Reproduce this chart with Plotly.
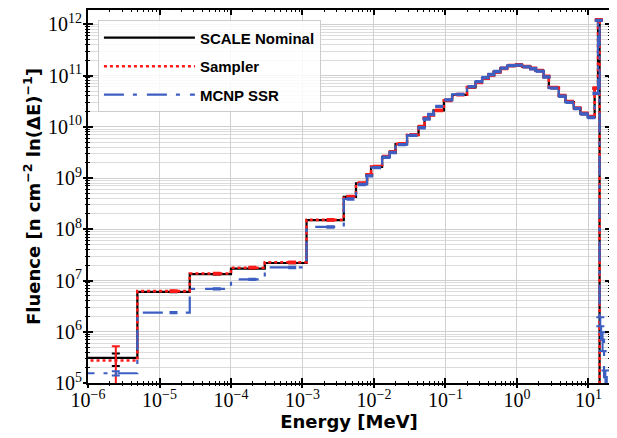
import plotly.graph_objects as go

# ---------------- data ----------------
# energy group boundaries [MeV]
edges = [1e-11, 4.9e-6, 2.65e-5, 1.0e-4, 2.97e-4, 1.14e-3, 3.78e-3, 5.6e-3, 8.0e-3, 9.1e-3,
         1.3e-2, 1.66e-2, 2.0e-2, 2.9e-2, 4.2e-2, 5.1e-2, 5.8e-2, 6.8e-2, 9.5e-2, 0.124,
         0.20, 0.263, 0.326, 0.403, 0.473, 0.587, 0.729, 0.953, 1.18, 1.55,
         1.82, 2.37, 2.79, 3.85, 4.77, 6.23, 7.72, 9.77, 12.2, 13.6,
         14.3, 15.0, 16.5, 18.0, 20.0]

scale_nominal = [3.08e5, 5.98e6, 1.33e7, 1.71e7, 2.2e7, 1.51e8, 4.3e8, 7.9e8, 1.14e9, 1.66e9,
                 2.6e9, 3.2e9, 4.6e9, 6.9e9, 1.0e10, 1.46e10, 1.7e10, 2.1e10, 3.3e10, 4.2e10,
                 5.9e10, 7.35e10, 8.8e10, 1.02e11, 1.17e11, 1.37e11, 1.55e11, 1.6e11, 1.49e11, 1.37e11,
                 1.24e11, 9.5e10, 5.8e10, 4.0e10, 3.05e10, 2.3e10, 1.8e10, 1.57e10, 5.6e10, 1.2e12,
                 1e2, 1e2, 1e2, 1e2]
sampler = [2.74e5, 6.2e6, 1.37e7, 1.78e7, 2.27e7, 1.53e8, 4.35e8, 8.0e8, 1.15e9, 1.68e9,
           2.62e9, 3.25e9, 4.65e9, 7.0e9, 1.01e10, 1.48e10, 1.72e10, 2.1e10, 3.3e10, 4.25e10,
           6.0e10, 7.4e10, 8.9e10, 1.03e11, 1.18e11, 1.38e11, 1.56e11, 1.61e11, 1.5e11, 1.38e11,
           1.25e11, 9.6e10, 5.85e10, 4.05e10, 3.1e10, 2.32e10, 1.82e10, 1.58e10, 5.7e10, 1.22e12,
           1e2, 1e2, 1e2, 1e2]
mcnp_ssr = [1.55e5, 2.37e6, 6.9e6, 1.05e7, 1.8e7, 1.11e8, 3.9e8, 7.5e8, 1.1e9, 1.6e9,
            2.55e9, 3.15e9, 4.5e9, 6.8e9, 9.6e9, 1.42e10, 1.75e10, 2.5e10, 3.35e10, 4.3e10,
            6.1e10, 7.6e10, 9.1e10, 1.05e11, 1.2e11, 1.4e11, 1.57e11, 1.6e11, 1.48e11, 1.36e11,
            1.22e11, 9.4e10, 5.7e10, 3.95e10, 3.0e10, 2.28e10, 1.78e10, 1.52e10, 4.5e10, 1.2e12,
            1.6e6, 7e5, 1.3e5, 1e2]

# relative 1-sigma uncertainties (upper / lower)
scale_err_up = [0.22] + [0.01] * 43
scale_err_dn = [0.30] + [0.01] * 43
sampler_err_up = [0.90] + [0.04] * 43
sampler_err_dn = [0.73] + [0.04] * 43
mcnp_err_up = [0.10] + [0.03] * 39 + [0.20, 0.40, 0.35, 0.0]
mcnp_err_dn = [0.10] + [0.03] * 39 + [0.20, 0.40, 0.35, 0.0]

x_tickvals = [1e-6, 1e-5, 1e-4, 1e-3, 1e-2, 1e-1, 1e0, 1e1]
x_ticktext = ["10<sup>−6</sup>", "10<sup>−5</sup>", "10<sup>−4</sup>", "10<sup>−3</sup>",
              "10<sup>−2</sup>", "10<sup>−1</sup>", "10<sup>0</sup>", "10<sup>1</sup>"]
y_tickvals = [1e5, 1e6, 1e7, 1e8, 1e9, 1e10, 1e11, 1e12]
y_ticktext = ["10<sup>5</sup>", "10<sup>6</sup>", "10<sup>7</sup>", "10<sup>8</sup>",
              "10<sup>9</sup>", "10<sup>10</sup>", "10<sup>11</sup>", "10<sup>12</sup>"]

x_range_log = [-6, 1.30103]
y_range_log = [5, 12.28]

# ---------------- styling ----------------
BLACK = "#000000"
RED = "#ff1a1a"
BLUE = "#3d5fc2"

mids = [(edges[i] + edges[i + 1]) / 2 for i in range(len(edges) - 1)]


def step_xy(vals):
    return list(edges), list(vals) + [vals[-1]]


fig = go.Figure()

series = [
    ("SCALE Nominal", scale_nominal, scale_err_up, scale_err_dn, BLACK, "solid", 2.2),
    ("Sampler", sampler, sampler_err_up, sampler_err_dn, RED, "3px,3px", 2.6),
    ("MCNP SSR", mcnp_ssr, mcnp_err_up, mcnp_err_dn, BLUE, "20px,9px,4px,10px", 2.2),
]

for i, (name, vals, eu, ed, col, dash, lw) in enumerate(series):
    xs, ys = step_xy(vals)
    fig.add_trace(go.Scatter(
        x=xs, y=ys, mode="lines", name=name, line_shape="hv",
        line=dict(color=col, width=lw, dash=dash),
        legendgroup=f"g{i}", hoverinfo="skip",
    ))
    fig.add_trace(go.Scatter(
        x=mids, y=vals, mode="markers", showlegend=False, legendgroup=f"g{i}",
        marker=dict(size=1, color=col),
        error_y=dict(type="data", symmetric=False,
                     array=[v * e for v, e in zip(vals, eu)],
                     arrayminus=[v * e for v, e in zip(vals, ed)],
                     color=col, thickness=2, width=4),
        hoverinfo="skip",
    ))

# empty trace to instantiate the overlay (outward ticks) axes
fig.add_trace(go.Scatter(x=[], y=[], xaxis="x2", yaxis="y2", showlegend=False))

x_minor = [m * 10 ** p for p in range(-6, 2) for m in range(2, 10) if m * 10 ** p <= 20]
y_minor = [m * 10 ** p for p in range(5, 13) for m in range(2, 10) if m * 10 ** p <= 1.9e12]

tickfont = dict(family="Liberation Serif", size=20, color="black")
titlefont = dict(family="DejaVu Sans", size=18, color="black", weight="bold")

common = dict(type="log", showline=True, linecolor="black", linewidth=1.8,
              mirror="allticks", ticks="inside", ticklen=5, tickwidth=1.8,
              tickcolor="black", tickmode="array", zeroline=False, automargin=False)

# the page body offsets the figure by 8 px, so the figure is sized to fit the window
fig.update_layout(
    width=609, height=430,
    margin=dict(l=80, r=7, t=2, b=55),
    paper_bgcolor="white", plot_bgcolor="white",
    xaxis=dict(**common, range=x_range_log, tickvals=x_tickvals, ticktext=x_ticktext,
               tickfont=tickfont, showgrid=True, gridcolor="#d0d0d0", gridwidth=1,
               ticklabelstandoff=-2,
               minor=dict(tickmode="array", tickvals=x_minor, ticks="inside", ticklen=2,
                          tickwidth=1.2, tickcolor="black", showgrid=False),
               title=dict(text="Energy [MeV]", font=titlefont, standoff=0)),
    yaxis=dict(**common, range=y_range_log, tickvals=y_tickvals, ticktext=y_ticktext,
               tickfont=tickfont, showgrid=True, gridcolor="#cfcfcf", gridwidth=1,
               minor=dict(tickmode="array", tickvals=y_minor, ticks="inside", ticklen=2,
                          tickwidth=1.2, tickcolor="black", showgrid=True,
                          gridcolor="#dcdcdc", gridwidth=1),
               title=dict(text="Fluence [n cm<sup>−2</sup> ln(ΔE)<sup>−1</sup>]",
                          font=titlefont, standoff=3)),
    xaxis2=dict(type="log", overlaying="x", anchor="y2", range=x_range_log,
                tickmode="array", tickvals=x_tickvals, showticklabels=False,
                ticks="outside", ticklen=4, tickwidth=1.8, tickcolor="black",
                mirror="allticks", showline=False, showgrid=False, zeroline=False,
                minor=dict(tickmode="array", tickvals=x_minor, ticks="outside", ticklen=2,
                           tickwidth=1.2, tickcolor="black", showgrid=False)),
    yaxis2=dict(type="log", overlaying="y", anchor="x2", range=y_range_log,
                tickmode="array", tickvals=y_tickvals, showticklabels=False,
                ticks="outside", ticklen=4, tickwidth=1.8, tickcolor="black",
                mirror="allticks", showline=False, showgrid=False, zeroline=False,
                minor=dict(tickmode="array", tickvals=y_minor, ticks="outside", ticklen=2,
                           tickwidth=1.2, tickcolor="black", showgrid=False)),
    legend=dict(x=0.019, y=0.972, xanchor="left", yanchor="top",
                bgcolor="rgba(255,255,255,0.85)", bordercolor="#cccccc", borderwidth=1,
                font=dict(family="Liberation Sans", size=15, color="black", weight="bold"),
                tracegroupgap=6, itemwidth=91),
    showlegend=True,
)

fig.write_html("out.html")
